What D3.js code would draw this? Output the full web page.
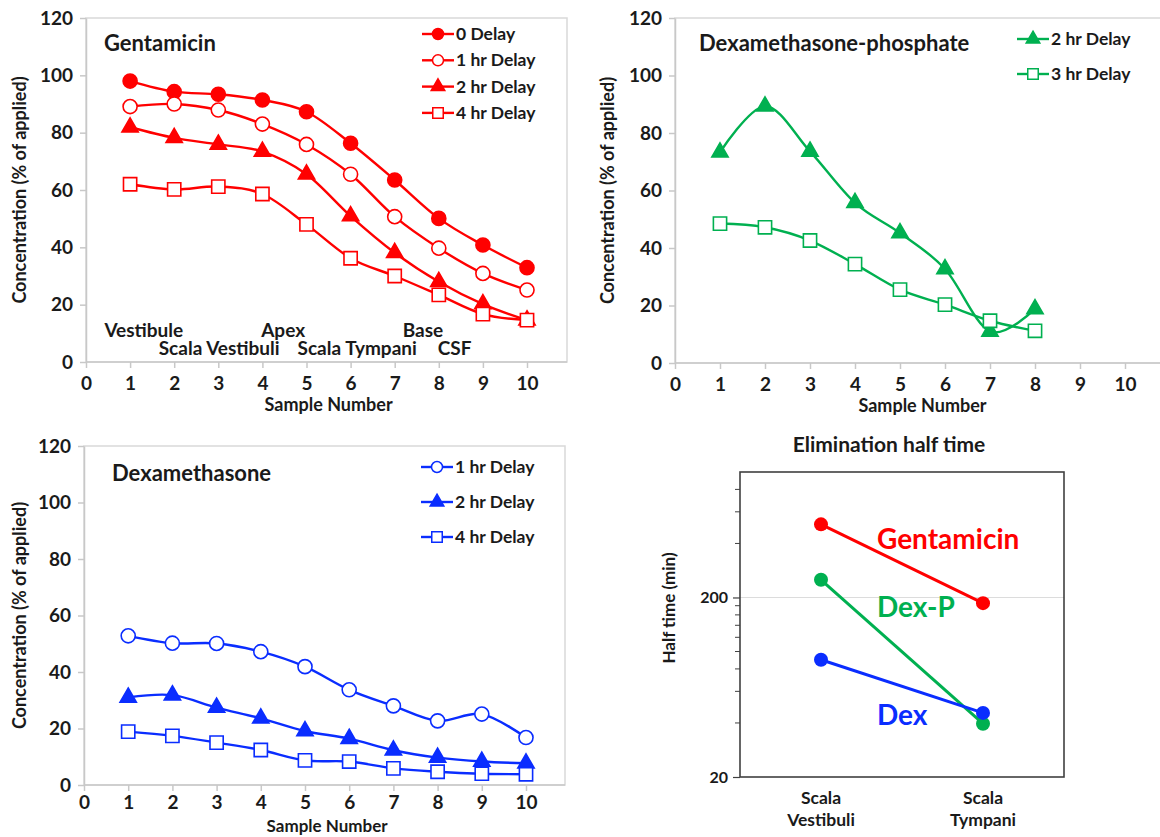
<!DOCTYPE html>
<html>
<head>
<meta charset="utf-8">
<script src="https://cdn.jsdelivr.net/npm/d3@7"></script>
<style>
  body { margin: 0; background: #fff; }
  svg text { font-family: Lato, "Open Sans", sans-serif; font-weight: 700; fill: #1a1a1a; }
</style>
</head>
<body>
<div id="viz"></div>
<script>
// ---- data ----
const sampleNumbers = [1, 2, 3, 4, 5, 6, 7, 8, 9, 10];
const xTickValues = [0, 1, 2, 3, 4, 5, 6, 7, 8, 9, 10];
const yTickValues = [0, 20, 40, 60, 80, 100, 120];

const gent0 = [98.0, 94.3, 93.4, 91.4, 87.3, 76.3, 63.5, 50.1, 40.8, 32.9];
const gent1 = [89.1, 90.0, 87.9, 83.0, 75.9, 65.5, 50.7, 39.7, 30.9, 25.1];
const gent2 = [81.9, 78.2, 75.9, 73.4, 65.5, 50.9, 38.1, 28.0, 20.2, 14.6];
const gent4 = [62.0, 60.2, 61.2, 58.6, 48.0, 36.2, 30.0, 23.4, 16.7, 14.6];

const dexP2 = [73.3, 89.3, 73.6, 55.7, 45.2, 32.7, 11.0, 18.8];
const dexP3 = [48.5, 47.2, 42.6, 34.4, 25.5, 20.3, 14.7, 11.2];

const dex1 = [52.8, 50.2, 50.1, 47.2, 41.9, 33.7, 28.0, 22.7, 25.1, 16.8];
const dex2 = [31.0, 31.8, 27.4, 23.6, 19.1, 16.4, 12.3, 9.7, 8.3, 7.7];
const dex4 = [18.9, 17.4, 15.0, 12.4, 8.7, 8.3, 5.9, 4.7, 4.0, 3.8];

// cochlear regions written under the gentamicin curves (x = sample, y = % axis)
const gentRegions = [
  { text: "Vestibule", x: 1.31, y: 8.7 },
  { text: "Apex", x: 4.47, y: 8.7 },
  { text: "Base", x: 7.64, y: 8.7 },
  { text: "Scala Vestibuli", x: 3.02, y: 2.4 },
  { text: "Scala Tympani", x: 6.15, y: 2.4 },
  { text: "CSF", x: 8.36, y: 2.4 }
];

const sites = ["Scala Vestibuli", "Scala Tympani"];
const halfGent = [511, 186];
const halfDexP = [251, 39.6];
const halfDex = [90, 45.5];
const halfTickValues = [20, 200];

const red = "#ff0000", green = "#00b050", blue = "#0a2dff";

const svg = d3.select("#viz").append("svg")
  .attr("width", 1160)
  .attr("height", 837);

const smooth = d3.curveCardinal.tension(0);

function marker(kind, size) {
  const type = kind.startsWith("circle") ? d3.symbolCircle
    : kind.startsWith("square") ? d3.symbolSquare : d3.symbolTriangle;
  return d3.symbol().type(type).size(size)();
}

function drawLinePanel(p) {
  const g = svg.append("g");
  const x = d3.scaleLinear().domain([0, 10]).range([p.x0, p.x10]);
  const y = d3.scaleLinear().domain([0, 120]).range([p.y0, p.y120]);

  // plot area border
  g.append("rect")
    .attr("x", p.x0).attr("y", p.y120)
    .attr("width", p.boxRight - p.x0).attr("height", p.y0 - p.y120)
    .attr("fill", "none").attr("stroke", "#d9d9d9").attr("stroke-width", 1.5);

  const yAxis = g.append("g")
    .attr("transform", "translate(" + p.x0 + ",0)")
    .call(d3.axisLeft(y).tickValues(yTickValues).tickSize(6).tickSizeOuter(0).tickPadding(7));
  const xAxis = g.append("g")
    .attr("transform", "translate(0," + p.y0 + ")")
    .call(d3.axisBottom(x).tickValues(xTickValues).tickSize(6).tickSizeOuter(0).tickPadding(p.xTickPad));
  [xAxis, yAxis].forEach(a => {
    a.select(".domain").attr("stroke", "#c8c8c8").attr("stroke-width", 1.5);
    a.selectAll(".tick line").attr("stroke", "#c8c8c8").attr("stroke-width", 1.5);
    a.selectAll(".tick text").style("font-size", "19px").attr("fill", "#1a1a1a");
  });
  xAxis.select(".domain").attr("d", "M" + p.x0 + ",0H" + p.boxRight);

  g.append("text")
    .attr("transform", "translate(" + p.yTitleX + "," + (p.y0 + p.y120) / 2 + ") rotate(-90)")
    .attr("text-anchor", "middle")
    .style("font-size", "18px")
    .text("Concentration (% of applied)");
  g.append("text")
    .attr("x", x(5.5)).attr("y", p.y0 + p.xTitleGap)
    .attr("text-anchor", "middle")
    .style("font-size", p.xTitleSize + "px")
    .text("Sample Number");

  g.append("text")
    .attr("x", p.titleX).attr("y", p.titleY)
    .style("font-size", p.titleSize + "px")
    .text(p.title);

  const line = d3.line()
    .x((d, i) => x(sampleNumbers[i]))
    .y(d => y(d))
    .curve(smooth);

  p.series.forEach((s, k) => {
    g.append("path")
      .attr("d", line(s.values))
      .attr("fill", "none").attr("stroke", p.color).attr("stroke-width", 2.4);
    const open = s.kind.endsWith("open");
    g.selectAll(null)
      .data(s.values)
      .enter()
      .append("path")
      .attr("transform", (d, i) => "translate(" + x(sampleNumbers[i]) + "," + y(d) + ")")
      .attr("d", marker(s.kind, s.kind.startsWith("triangle") ? 115 : s.kind.startsWith("square") ? 175 : 155))
      .attr("fill", open ? "#fff" : p.color)
      .attr("stroke", p.color).attr("stroke-width", 1.6);

    // legend entry
    const ly = p.legendY + k * p.legendStep;
    const lg = g.append("g").attr("transform", "translate(" + p.legendX + "," + ly + ")");
    lg.append("line").attr("x1", -16).attr("x2", 16).attr("stroke", p.color).attr("stroke-width", 2.4);
    lg.append("path")
      .attr("d", marker(s.kind, s.kind.startsWith("triangle") ? 80 : s.kind.startsWith("square") ? 110 : 95))
      .attr("fill", open ? "#fff" : p.color)
      .attr("stroke", p.color).attr("stroke-width", 1.5);
    lg.append("text")
      .attr("x", 18).attr("y", 6)
      .style("font-size", "17.5px")
      .text(s.name);
  });

  return { g, x, y };
}

// ---- Gentamicin ----
const gent = drawLinePanel({
  x0: 86, x10: 527, y0: 362, y120: 18, boxRight: 567, yTitleX: 26,
  xTickPad: 9, xTitleGap: 49, xTitleSize: 18,
  title: "Gentamicin", titleX: 104, titleY: 51, titleSize: 22,
  color: red, legendX: 438, legendY: 34, legendStep: 26.3,
  series: [
    { name: "0 Delay", values: gent0, kind: "circle" },
    { name: "1 hr Delay", values: gent1, kind: "circle-open" },
    { name: "2 hr Delay", values: gent2, kind: "triangle" },
    { name: "4 hr Delay", values: gent4, kind: "square-open" }
  ]
});
gent.g.selectAll(".region")
  .data(gentRegions)
  .enter()
  .append("text")
  .attr("class", "region")
  .attr("x", d => gent.x(d.x)).attr("y", d => gent.y(d.y))
  .attr("text-anchor", "middle")
  .style("font-size", "19px")
  .text(d => d.text);

// ---- Dexamethasone-phosphate ----
drawLinePanel({
  x0: 675, x10: 1125, y0: 363, y120: 18, boxRight: 1163, yTitleX: 614,
  xTickPad: 9, xTitleGap: 49, xTitleSize: 18,
  title: "Dexamethasone-phosphate", titleX: 699, titleY: 51, titleSize: 22,
  color: green, legendX: 1033, legendY: 39, legendStep: 35,
  series: [
    { name: "2 hr Delay", values: dexP2, kind: "triangle" },
    { name: "3 hr Delay", values: dexP3, kind: "square-open" }
  ]
});

// ---- Dexamethasone ----
drawLinePanel({
  x0: 84, x10: 526, y0: 785, y120: 446, boxRight: 565, yTitleX: 26,
  xTickPad: 5, xTitleGap: 47, xTitleSize: 17,
  title: "Dexamethasone", titleX: 112, titleY: 481, titleSize: 22,
  color: blue, legendX: 437, legendY: 467, legendStep: 35,
  series: [
    { name: "1 hr Delay", values: dex1, kind: "circle-open" },
    { name: "2 hr Delay", values: dex2, kind: "triangle" },
    { name: "4 hr Delay", values: dex4, kind: "square-open" }
  ]
});

// ---- Elimination half time ----
const box = { left: 740, right: 1064, top: 472, bottom: 777 };
const hx = d3.scalePoint().domain(sites).range([box.left, box.right]).padding(0.5);
const hy = d3.scaleLog().domain([20, 1000]).range([box.bottom, box.top]);
const hg = svg.append("g");

hg.append("line")
  .attr("x1", box.left).attr("x2", box.right)
  .attr("y1", hy(200)).attr("y2", hy(200))
  .attr("stroke", "#dcdcdc").attr("stroke-width", 1.2);

const minorTicks = [];
[20, 200].forEach(base => {
  for (let k = 2; k <= 9; k++) if (base * k < 1000) minorTicks.push(base * k);
});
hg.selectAll(".minor")
  .data(minorTicks)
  .enter()
  .append("line")
  .attr("x1", box.left - 5).attr("x2", box.left)
  .attr("y1", d => hy(d)).attr("y2", d => hy(d))
  .attr("stroke", "#404040").attr("stroke-width", 1);

const hAxis = hg.append("g")
  .attr("transform", "translate(" + box.left + ",0)")
  .call(d3.axisLeft(hy).tickValues(halfTickValues).tickFormat(d3.format("d")).tickSize(7).tickSizeOuter(0).tickPadding(5));
hAxis.select(".domain").remove();
hAxis.selectAll(".tick line").attr("stroke", "#404040").attr("stroke-width", 1.2);
hAxis.selectAll(".tick text").style("font-size", "16px").attr("fill", "#1a1a1a");

hg.append("rect")
  .attr("x", box.left).attr("y", box.top)
  .attr("width", box.right - box.left).attr("height", box.bottom - box.top)
  .attr("fill", "none").attr("stroke", "#404040").attr("stroke-width", 1.6);

hg.append("text")
  .attr("x", 889).attr("y", 452)
  .attr("text-anchor", "middle")
  .style("font-size", "21px")
  .text("Elimination half time");
hg.append("text")
  .attr("transform", "translate(675," + 608 + ") rotate(-90)")
  .attr("text-anchor", "middle")
  .style("font-size", "17px")
  .text("Half time (min)");

sites.forEach(s => {
  const words = s.split(" ");
  const t = hg.append("text")
    .attr("x", hx(s)).attr("y", 804)
    .attr("text-anchor", "middle")
    .style("font-size", "17.5px");
  words.forEach((w, i) => t.append("tspan").attr("x", hx(s)).attr("dy", i ? 22 : 0).text(w));
});

const halfSeries = [
  { name: "Gentamicin", values: halfGent, color: red, labelAt: 374 },
  { name: "Dex-P", values: halfDexP, color: green, labelAt: 155 },
  { name: "Dex", values: halfDex, color: blue, labelAt: 38.9 }
];
const hline = d3.line().x((d, i) => hx(sites[i])).y(d => hy(d));
halfSeries.forEach(s => {
  hg.append("path")
    .attr("d", hline(s.values))
    .attr("fill", "none").attr("stroke", s.color).attr("stroke-width", 3);
  hg.selectAll(null)
    .data(s.values)
    .enter()
    .append("circle")
    .attr("cx", (d, i) => hx(sites[i])).attr("cy", d => hy(d))
    .attr("r", 7)
    .attr("fill", s.color);
  hg.append("text")
    .attr("x", hx(sites[0]) + 56).attr("y", hy(s.labelAt))
    .style("font-size", "28px")
    .style("fill", s.color)
    .text(s.name);
});
</script>
</body>
</html>
